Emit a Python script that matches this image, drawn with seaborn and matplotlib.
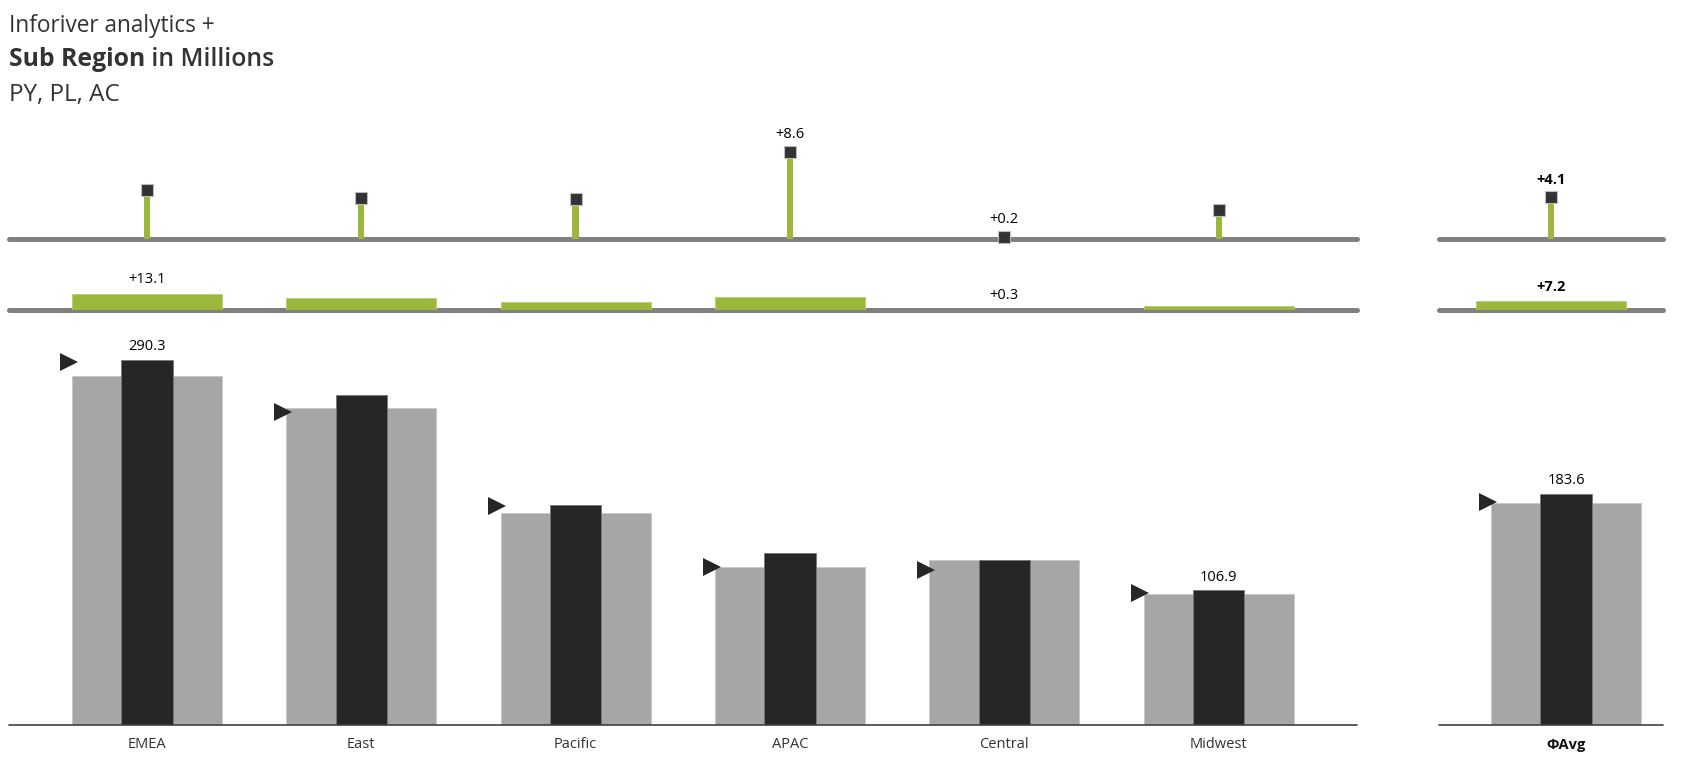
import numpy as np
import matplotlib
matplotlib.use("Agg")
import matplotlib.pyplot as plt
import seaborn as sns

# values (millions)
regions = ["EMEA", "East", "Pacific", "APAC", "Central", "Midwest"]
ac = [290.3, 262.0, 175.0, 136.5, 131.1, 106.9]
py = [277.2, 252.1, 168.7, 125.8, 130.8, 104.0]
pl = [288.4, 249.0, 174.3, 125.6, 122.9, 104.8]
delta_py = [13.1, 9.9, 6.3, 10.7, 0.3, 2.9]
delta_pl = [4.8, 4.0, 3.9, 8.6, 0.2, 2.9]

avg_label = "ΦAvg"
avg_ac = 183.6
avg_py = 176.4
avg_pl = 177.4
avg_delta_py = 7.2
avg_delta_pl = 4.1

sns.set_theme(style="white")
plt.rcParams["font.family"] = ["Open Sans", "DejaVu Sans"]

GRAY = "#a6a6a6"
DARK = "#262626"
GREEN = "#9bb83c"
LINE = "#808080"
TXT = "#333333"

W, H = 1685, 768
fig = plt.figure(figsize=(W / 100, H / 100), dpi=100)


def ax_at(x0, x1, ytop, ybot):
    ax = fig.add_axes([x0 / W, (H - ybot) / H, (x1 - x0) / W, (ybot - ytop) / H])
    ax.set_axis_off()
    return ax


def pt(px):
    return px * 0.72


def draw_column(x0, x1, xlim_top, xlim_main, cats, ac_v, py_v, pl_v, dpy_v, dpl_v, bold=False):
    n = len(cats)
    pos = np.arange(n)
    weight = "bold" if bold else "normal"

    # main bars: PY wide, AC narrow, PL triangle
    ax = ax_at(x0, x1, 330, 725)
    ax.set_axis_on()
    sns.barplot(x=cats, y=py_v, width=0.70, color=GRAY, saturation=1,
                edgecolor="#c8c8c8", linewidth=0.6, ax=ax, zorder=2)
    sns.barplot(x=cats, y=ac_v, width=0.24, color=DARK, saturation=1,
                edgecolor="#777777", linewidth=0.6, ax=ax, zorder=3)
    ax.plot(pos - 0.365, pl_v, ">", ms=13, color=DARK, mew=0, zorder=4, clip_on=False)
    ax.axhline(0, color="#404040", lw=1.2, zorder=5, clip_on=False)
    ax.set_xlim(*xlim_main)
    ax.set_ylim(0, 395 / 1.259)
    for s in ax.spines.values():
        s.set_visible(False)
    ax.set_yticks([])
    ax.set_xlabel("")
    ax.tick_params(axis="x", length=0, pad=9, labelsize=10.5, labelcolor=TXT)
    for lab in ax.get_xticklabels():
        lab.set_fontweight(weight)
        if bold:
            lab.set_color("#111111")
    idx = [0] if n == 1 else [int(np.argmax(ac_v)), int(np.argmin(ac_v))]
    for i in idx:
        ax.annotate(f"{ac_v[i]:.1f}", (pos[i], ac_v[i]), xytext=(0, pt(13)),
                    textcoords="offset points", ha="center", va="center",
                    fontsize=10.5, color="black")

    # delta PY bars
    ax = ax_at(x0, x1, 250, 310)
    sns.barplot(x=cats, y=dpy_v, width=0.70, color=GREEN, saturation=1,
                edgecolor="#b5cc70", linewidth=0.6, ax=ax, zorder=3)
    ax.set_axis_off()
    ax.axhline(0, color=LINE, lw=pt(5), zorder=2, clip_on=False)
    ax.set_xlim(*xlim_top)
    ax.set_ylim(0, 60 / 1.22)
    idx = [0] if n == 1 else [int(np.argmax(dpy_v)), int(np.argmin(dpy_v))]
    for i in idx:
        ax.annotate(f"+{dpy_v[i]:.1f}", (pos[i], dpy_v[i]), xytext=(0, pt(14.5)),
                    textcoords="offset points", ha="center", va="center",
                    fontsize=10.5, color="black", fontweight=weight)

    # delta PL lollipops
    ax = ax_at(x0, x1, 110, 239)
    sns.barplot(x=cats, y=dpl_v, width=0.03, color=GREEN, saturation=1,
                linewidth=0, ax=ax, zorder=3)
    ax.set_axis_off()
    ax.axhline(0, color=LINE, lw=pt(5), zorder=2, clip_on=False)
    ax.plot(pos, dpl_v, "s", ms=8.3, color="#333333", mec="#bbbbbb", mew=0.8,
            zorder=4, clip_on=False)
    ax.set_xlim(*xlim_top)
    ax.set_ylim(0, 129 / 10.15)
    idx = [0] if n == 1 else [int(np.argmax(dpl_v)), int(np.argmin(dpl_v))]
    for i in idx:
        ax.annotate(f"+{dpl_v[i]:.1f}", (pos[i], dpl_v[i]), xytext=(0, pt(17.5)),
                    textcoords="offset points", ha="center", va="center",
                    fontsize=10.5, color="black", fontweight=weight)


draw_column(8.6, 1357, (-0.645, 5.645), (-0.645, 5.645),
            regions, ac, py, pl, delta_py, delta_pl)
draw_column(1439, 1663, (-0.522, 0.522), (-0.592, 0.452),
            [avg_label], [avg_ac], [avg_py], [avg_pl],
            [avg_delta_py], [avg_delta_pl], bold=True)

# title block
fig.text(8.6 / W, 1 - 26 / H, "Inforiver analytics +", ha="left", va="center",
         fontsize=16.3, color=TXT)
t2 = fig.text(8.6 / W, 1 - 60 / H, "Sub Region", ha="left", va="center",
              fontsize=17.8, color=TXT, fontweight="bold")
fig.add_artist(plt.Annotation(" in Millions", xy=(1, 0.5), xycoords=t2,
                              ha="left", va="center", fontsize=17.8,
                              color=TXT, fontweight="semibold"))
fig.text(8.6 / W, 1 - 94.6 / H, "PY, PL, AC", ha="left", va="center",
         fontsize=17.5, color=TXT)

fig.savefig("out.png", dpi=100)
